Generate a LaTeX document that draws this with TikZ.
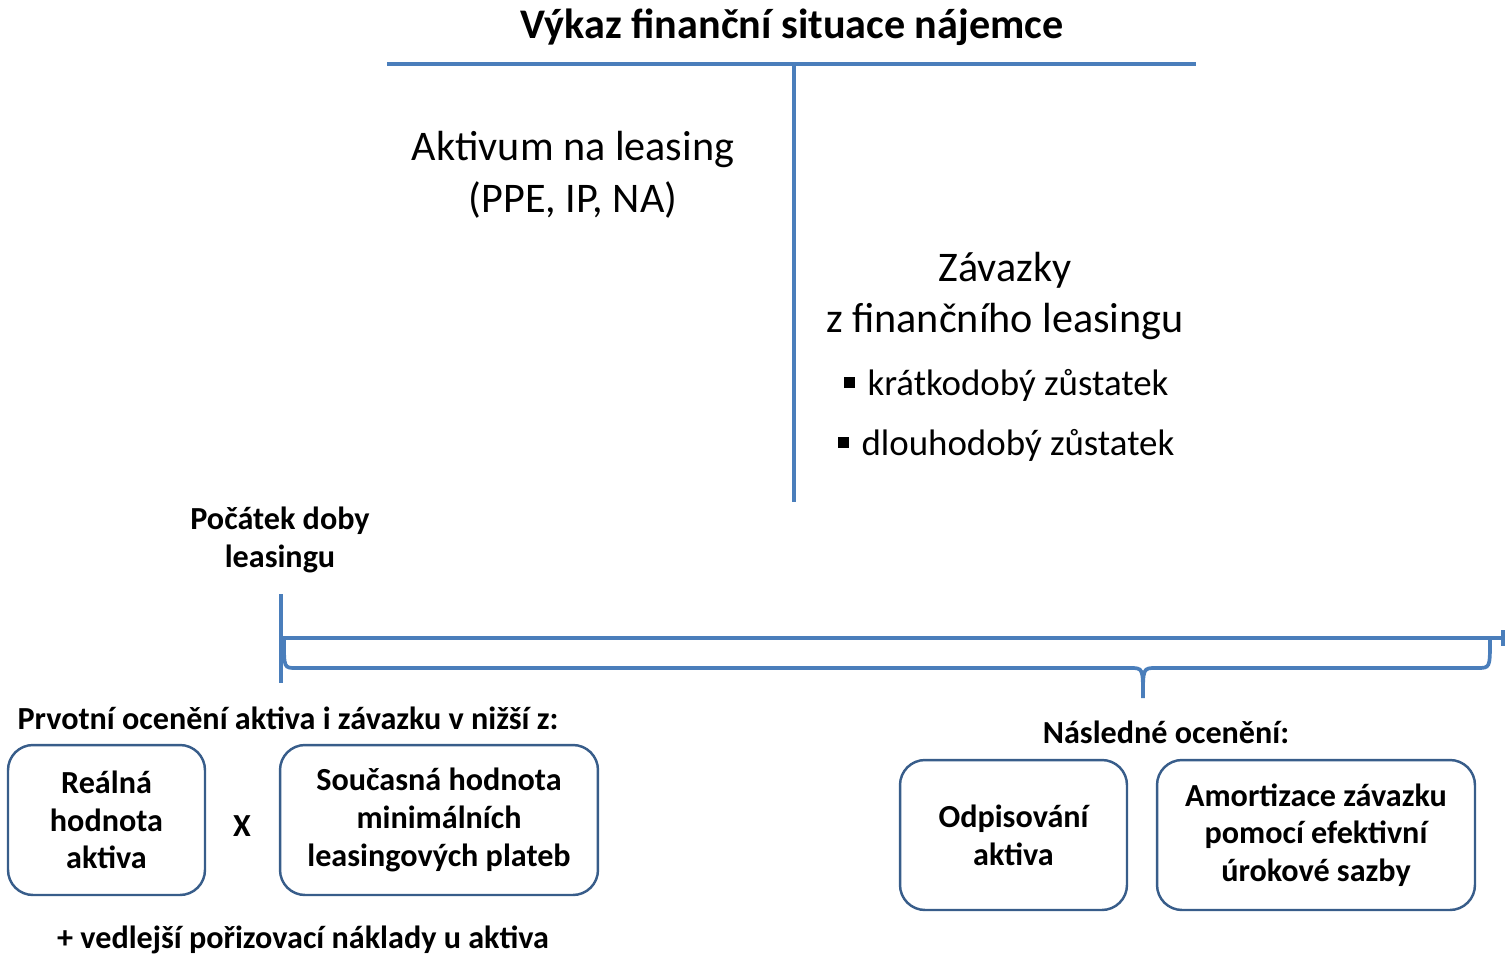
\documentclass[tikz,border=0pt]{standalone}
\usepackage{fontspec}
\setmainfont{Carlito}
\definecolor{lineblue}{RGB}{74,126,187}
\definecolor{boxblue}{RGB}{56,93,138}
\tikzset{
  tline/.style = {lineblue, line width = 2.1pt},
  bold label/.style = {font = \fontsize{18.3}{21.5}\selectfont\bfseries, align = center},
  big label/.style = {font = \fontsize{24}{29.5}\selectfont, align = center},
  bullet label/.style = {font = \fontsize{21}{25}\selectfont},
  valuebox/.style = {draw = boxblue, line width = 1.4pt, rounded corners = 0.5cm, minimum height = 3cm, bold label}
}
\newcommand{\sqbullet}{\raisebox{0.2em}{\rule{0.3em}{0.3em}}\hspace{0.35em}}

\begin{document}
\begin{tikzpicture}[x = 0.02cm, y = -0.02cm]
\useasboundingbox (0, 0) rectangle (1505, 957);
\node [font = \fontsize{24}{28}\selectfont\bfseries] (title) at (792, 27) {Výkaz finanční situace nájemce};
\coordinate (top left) at (387, 64);
\coordinate (top right) at (1196, 64);
\coordinate (top mid) at (794, 64);
\coordinate (mid end) at (794, 502);
\draw [tline] (top left) -- (top right);
\draw [tline] (top mid) -- (mid end);
\node [big label] (asset) at (573, 175) {Aktivum na leasing\\(PPE, IP, NA)};
\node [big label] (liability) at (1005, 296) {Závazky\\z finančního leasingu};
\node [bullet label] (short) at (1006, 385) {\sqbullet krátkodobý zůstatek};
\node [bullet label] (long) at (1006, 445) {\sqbullet dlouhodobý zůstatek};

\node [bold label] (start) at (280, 540) {Počátek doby\\leasingu};
\coordinate (tick top) at (281, 594);
\coordinate (tick bottom) at (281, 683);
\coordinate (t0) at (281, 638);
\coordinate (t1) at (1505, 638);
\draw [lineblue, line width = 2.8pt] (tick top) -- (tick bottom);
\draw [tline] (t0) -- (t1);
\draw [tline] (1503, 630) -- (1503, 646);
\draw [tline] (284, 640) .. controls (284, 668) .. (296, 668) -- (1130, 668)
  .. controls (1143, 668) .. (1143, 698) .. controls (1143, 668) .. (1156, 668)
  -- (1477, 668) .. controls (1490, 668) .. (1490, 640);

\node [bold label] (initial) at (288, 718) {Prvotní ocenění aktiva i závazku v nižší z:};
\node [valuebox, minimum width = 3.94cm] (fair) at (106.5, 820) {Reálná\\hodnota\\aktiva};
\node [bold label] (times) at (242, 826) {X};
\node [valuebox, minimum width = 6.36cm] (present) at (439, 820) {Současná hodnota\\minimálních\\leasingových plateb};
\node [bold label, anchor = base, inner sep = 0pt] (costs) at (303, 948) {+ vedlejší pořizovací náklady u aktiva};

\node [bold label] (later) at (1166, 732) {Následné ocenění:};
\node [valuebox, minimum width = 4.54cm] (depr) at (1013.5, 835) {Odpisování\\aktiva};
\node [valuebox, minimum width = 6.36cm] (amort) at (1316, 835) {Amortizace závazku\\pomocí efektivní\\úrokové sazby};
\end{tikzpicture}
\end{document}
